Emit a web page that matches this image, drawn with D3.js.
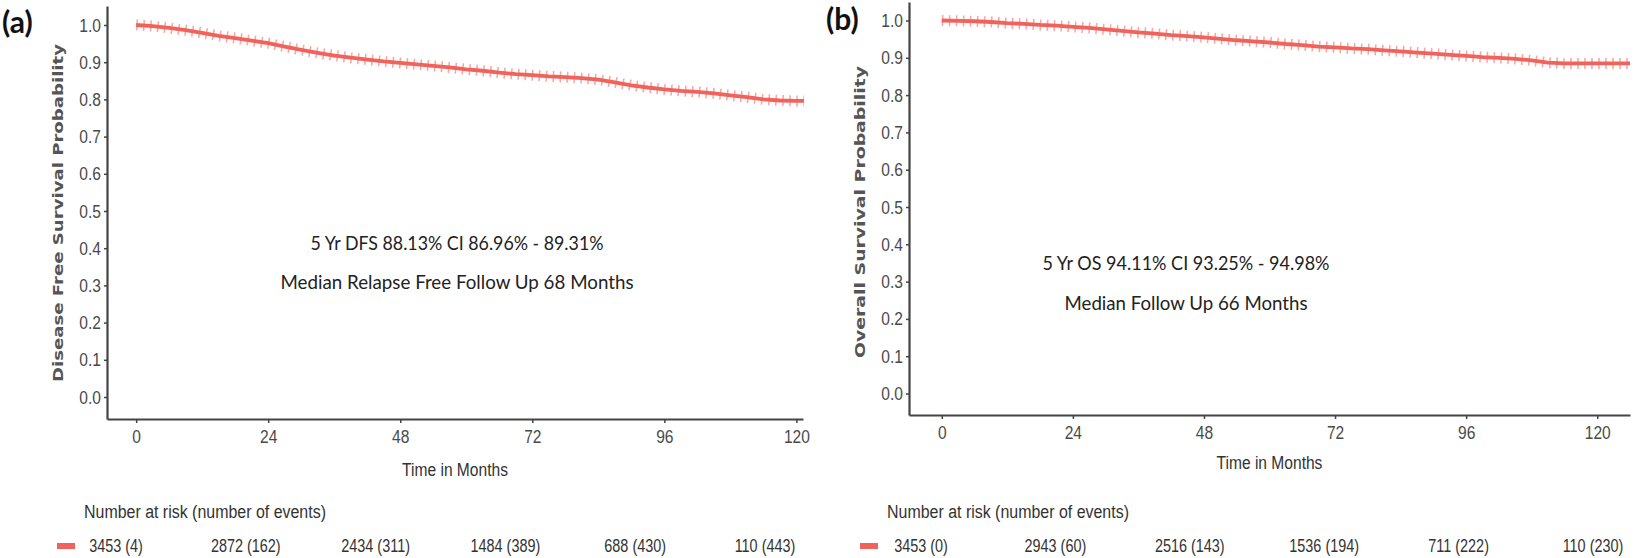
<!DOCTYPE html>
<html>
<head>
<meta charset="utf-8">
<script src="https://d3js.org/d3.v7.min.js"></script>
<style>
  body { margin: 0; background: #fff; }
  .narrow { font-family: "Liberation Sans", Arial, sans-serif; }
</style>
</head>
<body>
<div id="chart"></div>
<script>
// values
const monthTicks = [0, 24, 48, 72, 96, 120];
const probTicks = [0, 0.1, 0.2, 0.3, 0.4, 0.5, 0.6, 0.7, 0.8, 0.9, 1.0];

const months = [0, 3, 6, 9, 12, 15, 18, 21, 24, 27, 30, 33, 36, 39, 42, 45, 48, 51, 54, 57, 60,
  63, 66, 69, 72, 75, 78, 81, 84, 87, 90, 93, 96, 99, 102, 105, 108, 111, 114, 117, 120, 126];
const dfsSurv = [1.0, 0.997, 0.992, 0.986, 0.979, 0.971, 0.965, 0.958, 0.951, 0.942, 0.933, 0.925,
  0.918, 0.912, 0.907, 0.902, 0.898, 0.894, 0.890, 0.886, 0.881, 0.877, 0.872, 0.868, 0.865, 0.862,
  0.860, 0.857, 0.853, 0.846, 0.838, 0.832, 0.827, 0.823, 0.820, 0.816, 0.811, 0.806, 0.800, 0.797,
  0.796, 0.796];
const osSurv = [1.0, 0.999, 0.998, 0.996, 0.993, 0.991, 0.988, 0.986, 0.983, 0.980, 0.976, 0.972,
  0.968, 0.965, 0.961, 0.958, 0.955, 0.951, 0.947, 0.944, 0.941, 0.937, 0.934, 0.930, 0.928, 0.925,
  0.923, 0.920, 0.917, 0.914, 0.911, 0.908, 0.905, 0.902, 0.900, 0.897, 0.893, 0.887, 0.885, 0.885,
  0.885, 0.885];

const dfsRisk = [3453, 2872, 2434, 1484, 688, 110];
const dfsEvents = [4, 162, 311, 389, 430, 443];
const osRisk = [3453, 2943, 2516, 1536, 711, 110];
const osEvents = [0, 60, 143, 194, 222, 230];

const width = 1641, height = 558;
const lineColor = '#f0625b';
const markColor = '#f59a94';

const svg = d3.select('#chart').append('svg')
  .attr('width', width)
  .attr('height', height)
  .style('background', '#fff');

// squeeze text horizontally (the original uses a narrow font)
function squeeze(sel, sx) {
  sel.each(function () {
    const t = d3.select(this);
    const x = +t.attr('x') || 0;
    t.attr('x', x / sx).attr('transform', `scale(${sx},1)`);
  });
}

const panels = [
  {
    id: 'a', tag: '(a)', tagX: 2, tagY: 33,
    yTitle: 'Disease Free Survival Probability', yTitleX: 63, yTitleY: 213, yTitleLen: 338,
    xDomain: [-5.3, 121.2], xRange: [107, 803],
    y0: 397, y1: 25, axisY: 419, topY: 6,
    surv: dfsSurv, risk: dfsRisk, events: dfsEvents,
    note: ['5 Yr DFS 88.13%  CI 86.96% - 89.31%', 'Median Relapse Free Follow Up 68 Months'],
    noteLen: [293, 353], noteX: 457, noteY: [250, 289],
    xTitleY: 476,
    tableRange: [116, 765], markerX: 57, riskTitleX: 84
  },
  {
    id: 'b', tag: '(b)', tagX: 826, tagY: 30,
    yTitle: 'Overall Survival Probability', yTitleX: 865, yTitleY: 212, yTitleLen: 292,
    xDomain: [-6, 126], xRange: [909, 1630],
    y0: 393.5, y1: 20.5, axisY: 415, topY: 2,
    surv: osSurv, risk: osRisk, events: osEvents,
    note: ['5 Yr OS 94.11%  CI 93.25% - 94.98%', 'Median Follow Up 66 Months'],
    noteLen: [287, 243], noteX: 1186, noteY: [270, 310],
    xTitleY: 469,
    tableRange: [921, 1593], markerX: 860, riskTitleX: 887
  }
];

panels.forEach(p => {
  const x = d3.scaleLinear().domain(p.xDomain).range(p.xRange);
  const y = d3.scaleLinear().domain([0, 1]).range([p.y0, p.y1]);
  y.domain([y.invert(p.axisY), y.invert(p.topY)]).range([p.axisY, p.topY]);
  const g = svg.append('g');

  svg.append('defs').append('clipPath')
    .attr('id', 'clip-' + p.id)
    .append('rect')
    .attr('x', p.xRange[0]).attr('y', 0)
    .attr('width', p.xRange[1] - p.xRange[0] + 1)
    .attr('height', p.axisY);

  // panel tag
  svg.append('text')
    .attr('x', p.tagX).attr('y', p.tagY)
    .style('font-family', 'Lato, "Open Sans", sans-serif')
    .style('font-weight', 'bold')
    .style('font-size', '30px')
    .style('fill', '#111')
    .text(p.tag);

  // axes
  const xAxis = g.append('g')
    .attr('transform', `translate(0,${p.axisY})`)
    .call(d3.axisBottom(x).tickValues(monthTicks).tickSize(4).tickPadding(7).tickSizeOuter(0));
  const yAxis = g.append('g')
    .attr('transform', `translate(${p.xRange[0]},0)`)
    .call(d3.axisLeft(y).tickValues(probTicks).tickFormat(d3.format('.1f')).tickSize(3).tickPadding(3).tickSizeOuter(0));

  [xAxis, yAxis].forEach(a => {
    a.select('.domain').attr('stroke', '#444').attr('stroke-width', 2.2);
    a.selectAll('.tick line').attr('stroke', '#444').attr('stroke-width', 1.5);
    a.selectAll('.tick text')
      .attr('class', 'narrow')
      .style('font-size', '19px')
      .style('fill', '#4a4a4a')
      .call(squeeze, 0.82);
  });

  // y title
  g.append('text')
    .attr('transform', `translate(${p.yTitleX},${p.yTitleY}) rotate(-90)`)
    .attr('text-anchor', 'middle')
    .attr('textLength', p.yTitleLen)
    .attr('lengthAdjust', 'spacingAndGlyphs')
    .style('font-family', '"DejaVu Sans", sans-serif')
    .style('font-weight', 'bold')
    .style('font-size', '14px')
    .style('fill', '#555')
    .text(p.yTitle);

  // x title
  g.append('text')
    .attr('class', 'narrow')
    .attr('x', (p.xRange[0] + p.xRange[1]) / 2)
    .attr('y', p.xTitleY)
    .attr('text-anchor', 'middle')
    .style('font-size', '19px')
    .style('fill', '#333')
    .text('Time in Months')
    .call(squeeze, 0.82);

  // survival curve with censor marks
  const pts = months.map((m, i) => [m, p.surv[i]]);
  const line = d3.line().x(d => x(d[0])).y(d => y(d[1])).curve(d3.curveLinear);
  const curve = g.append('g').attr('clip-path', `url(#clip-${p.id})`);
  curve.append('path')
    .attr('d', line(pts))
    .attr('fill', 'none')
    .attr('stroke', markColor)
    .attr('stroke-width', 11)
    .attr('stroke-dasharray', '1.6 5.4')
    .attr('opacity', 0.85);
  curve.append('path')
    .attr('d', line(pts))
    .attr('fill', 'none')
    .attr('stroke', lineColor)
    .attr('stroke-width', 3.8);

  // annotation
  p.note.forEach((t, i) => {
    g.append('text')
      .attr('x', p.noteX)
      .attr('y', p.noteY[i])
      .attr('text-anchor', 'middle')
      .attr('textLength', p.noteLen[i])
      .attr('lengthAdjust', 'spacingAndGlyphs')
      .style('font-family', 'Lato, "Open Sans", sans-serif')
      .style('font-size', '20px')
      .style('fill', '#222')
      .text(t);
  });

  // number at risk table
  const tx = d3.scaleLinear().domain([0, 120]).range(p.tableRange);
  g.append('text')
    .attr('class', 'narrow')
    .attr('x', p.riskTitleX)
    .attr('y', 518)
    .style('font-size', '19px')
    .style('fill', '#333')
    .text('Number at risk (number of events)')
    .call(squeeze, 0.84);

  g.append('line')
    .attr('x1', p.markerX).attr('x2', p.markerX + 18)
    .attr('y1', 546).attr('y2', 546)
    .attr('stroke', lineColor)
    .attr('stroke-width', 6);

  g.selectAll('.risk')
    .data(p.risk)
    .join('text')
    .attr('class', 'narrow risk')
    .attr('x', (d, i) => tx(monthTicks[i]))
    .attr('y', 552)
    .attr('text-anchor', 'middle')
    .style('font-size', '19px')
    .style('fill', '#333')
    .text((d, i) => `${d} (${p.events[i]})`)
    .call(squeeze, 0.76);
});
</script>
</body>
</html>
